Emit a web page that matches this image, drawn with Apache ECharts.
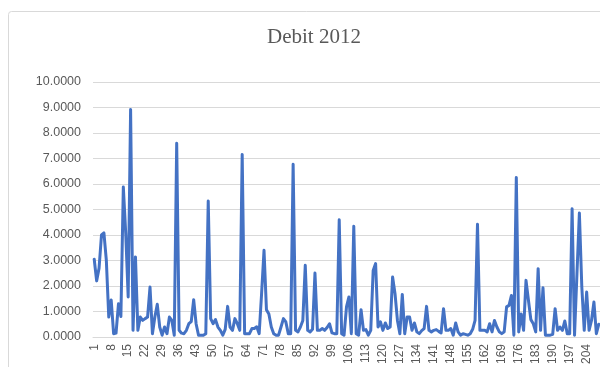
<!DOCTYPE html>
<html>
<head>
<meta charset="utf-8">
<script src="https://cdn.jsdelivr.net/npm/echarts@6/dist/echarts.min.js"></script>
<style>
html,body{margin:0;padding:0;background:#fff;overflow:hidden;}
#c{width:600px;height:367px;}
</style>
</head>
<body>
<div id="c"></div>
<script>
const titleText = 'Debit 2012';
const debit = [
3.05,2.2,2.7,4.0,4.08,3.0,0.78,1.45,0.13,0.15,
1.3,0.8,5.88,4.05,1.57,8.92,0.26,3.14,0.26,0.78,
0.65,0.72,0.78,1.96,0.13,0.78,1.28,0.39,0.07,0.39,
0.13,0.78,0.65,0.07,7.6,0.26,0.15,0.13,0.26,0.52,
0.6,1.46,0.52,0.07,0.07,0.07,0.13,5.33,0.72,0.52,
0.68,0.39,0.26,0.07,0.3,1.2,0.39,0.26,0.72,0.52,
0.26,7.16,0.13,0.13,0.13,0.33,0.33,0.4,0.13,1.7,
3.4,1.07,0.9,0.39,0.13,0.07,0.07,0.39,0.72,0.59,
0.13,0.13,6.77,0.26,0.2,0.39,0.65,2.81,0.26,0.2,
0.3,2.51,0.26,0.26,0.33,0.26,0.37,0.52,0.16,0.13,
0.13,4.6,0.13,0.07,1.18,1.57,0.13,4.34,0.13,0.07,
1.07,0.26,0.29,0.07,0.26,2.61,2.88,0.39,0.59,0.26,
0.55,0.33,0.39,2.35,1.7,0.65,0.13,1.67,0.13,0.78,
0.78,0.26,0.55,0.2,0.13,0.25,0.33,1.2,0.26,0.2,
0.26,0.29,0.22,0.16,1.11,0.26,0.26,0.33,0.07,0.55,
0.2,0.07,0.13,0.1,0.07,0.13,0.3,0.65,4.42,0.26,
0.26,0.26,0.2,0.52,0.2,0.65,0.39,0.2,0.13,0.2,
1.18,1.24,1.63,0.07,6.25,0.2,0.9,0.26,2.22,1.44,
0.68,0.52,0.2,2.68,0.26,1.93,0.07,0.07,0.07,0.1,
1.11,0.26,0.39,0.26,0.63,0.13,0.13,5.03,0.07,2.48,
4.86,1.96,0.26,1.76,0.26,0.65,1.37,0.13,0.5
];
const categories = debit.map((v, i) => String(i + 1));
const yMin = 0, yMax = 10, yStep = 1;

const chart = echarts.init(document.getElementById('c'));
chart.setOption({
  animation: false,
  backgroundColor: '#fff',
  title: {
    text: titleText,
    left: 262,
    top: 22,
    textStyle: {fontFamily: 'Liberation Serif', fontSize: 21, fontWeight: 'normal', color: '#595959'}
  },
  graphic: [{
    type: 'rect',
    shape: {x: 8.5, y: 11.5, width: 700, height: 400, r: 3},
    style: {fill: 'none', stroke: '#d9d9d9', lineWidth: 1},
    silent: true
  }],
  grid: {left: 93, top: 82, width: 510, height: 255, containLabel: false},
  xAxis: {
    type: 'category',
    data: categories,
    boundaryGap: true,
    axisLine: {show: true, lineStyle: {color: '#d9d9d9', width: 1}},
    axisTick: {show: false},
    axisLabel: {
      interval: 6, rotate: 90, margin: 7,
      fontFamily: 'Liberation Sans', fontSize: 12, color: '#595959'
    },
    splitLine: {show: false}
  },
  yAxis: {
    type: 'value',
    min: yMin, max: yMax, interval: yStep,
    axisLine: {show: false},
    axisTick: {show: false},
    axisLabel: {
      margin: 12,
      fontFamily: 'Liberation Sans', fontSize: 12.5, color: '#595959',
      formatter: v => v.toFixed(4)
    },
    splitLine: {lineStyle: {color: '#d9d9d9', width: 1}}
  },
  series: [{
    type: 'line',
    data: debit,
    showSymbol: false,
    symbol: 'none',
    lineStyle: {color: '#4472C4', width: 3, join: 'round', cap: 'round'},
    itemStyle: {color: '#4472C4'}
  }]
});
</script>
</body>
</html>
